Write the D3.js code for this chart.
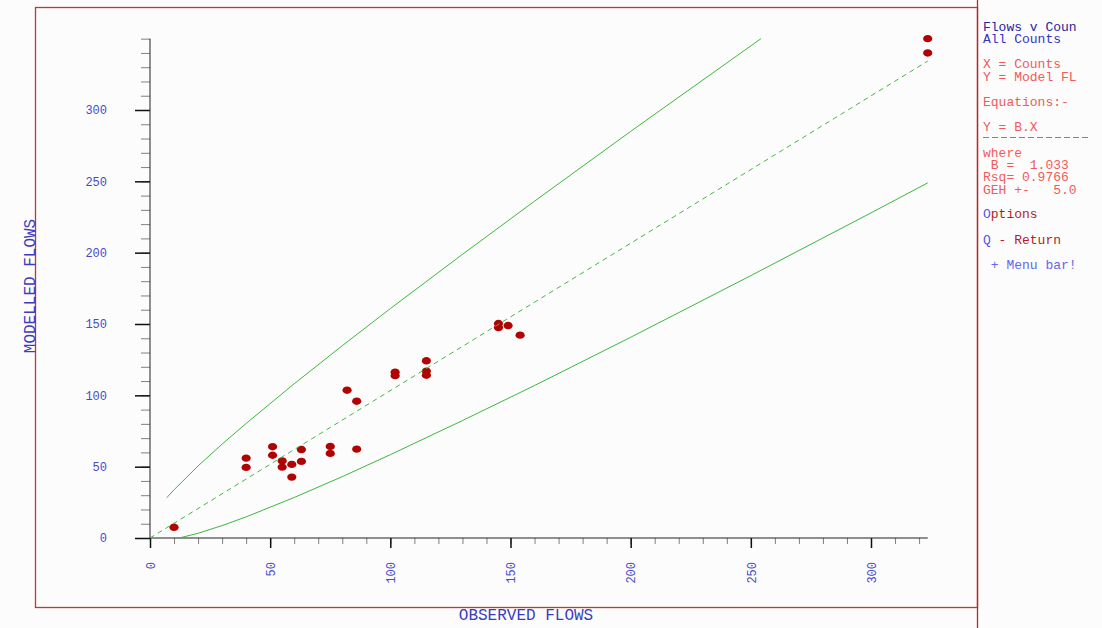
<!DOCTYPE html>
<html>
<head>
<meta charset="utf-8">
<script src="https://cdn.jsdelivr.net/npm/d3@7"></script>
<style>
  body { margin: 0; background: #fcfcfc; }
  svg { display: block; }
  text { font-family: "Liberation Mono", "DejaVu Sans Mono", monospace; }
</style>
</head>
<body>
<svg id="chart" width="1102" height="628"></svg>
<script>
(function(){
    // observed counts vs modelled flows
    var obsFlows = [10, 40, 40, 51, 51, 55, 55, 59, 59, 63, 63, 75, 75, 86,
                    82, 86, 102, 102, 115, 115, 115, 145, 145, 149, 154, 323.6, 323.6];
    var modFlows = [7.5, 56, 49.5, 64, 58, 54, 49.7, 51.6, 42.7, 62, 53.7, 64.2, 59.3, 62.3,
                    103.6, 95.9, 116.2, 113.8, 124.2, 117, 114.1, 150.3, 147.5, 148.9, 142.2, 350, 340];

    // fitted line Y = B.X
    var fitX = [0, 323.6];
    var fitY = [0, 334.3];

    // GEH +- 5 envelope
    var upperX = [7, 10, 20, 30, 40, 60, 80, 100, 130, 160, 200, 254.2];
    var upperY = [28.3, 33.8, 50.5, 65.8, 80.3, 108.1, 134.8, 160.8, 198.8, 236.1, 285.0, 350];
    var lowerX = [12.1, 20, 30, 40, 60, 80, 100, 130, 160, 200, 250, 300, 323.6];
    var lowerY = [0, 3.3, 8.7, 14.8, 28.4, 43.0, 58.4, 82.3, 106.9, 140.7, 183.9, 227.9, 248.9];

    var majorTicks = [0, 50, 100, 150, 200, 250, 300];
    var xMinorTicks = d3.range(0, 321, 10);
    var yMinorTicks = d3.range(0, 351, 10);

    var panelLines = [
        {y: 27,  parts: [["Flows v Coun", "#24249c"]]},
        {y: 39,  parts: [["All Counts", "#3434c0"]]},
        {y: 64,  parts: [["X = Counts", "#f05a5a"]]},
        {y: 77,  parts: [["Y = Model FL", "#f05a5a"]]},
        {y: 102, parts: [["Equations:-", "#f05a5a"]]},
        {y: 127, parts: [["Y = B.X", "#f05a5a"]]},
        {y: 153, parts: [["where", "#f05a5a"]]},
        {y: 165, parts: [[" B =  1.033", "#f05a5a"]]},
        {y: 177, parts: [["Rsq= 0.9766", "#f05a5a"]]},
        {y: 190, parts: [["GEH +-   5.0", "#f05a5a"]]},
        {y: 214, parts: [["O", "#5656e6"], ["ptions", "#b41c1c"]]},
        {y: 240, parts: [["Q", "#5656e6"], [" - Return", "#b41c1c"]]},
        {y: 265, parts: [[" + Menu bar!", "#6464f0"]]}
    ];

    var svg = d3.select("#chart");

    var x = d3.scaleLinear().domain([0, 300]).range([150, 871]);
    var y = d3.scaleLinear().domain([0, 300]).range([538, 110]);

    // frame and side panel divider
    svg.append("rect")
        .attr("x", 35.5).attr("y", 7.5)
        .attr("width", 942).attr("height", 600)
        .attr("fill", "none")
        .attr("stroke", "#c43434")
        .attr("stroke-width", 1.3);

    svg.append("line")
        .attr("x1", 977.5).attr("x2", 977.5)
        .attr("y1", 0).attr("y2", 628)
        .attr("stroke", "#b42a2a")
        .attr("stroke-width", 1.3);

    // minor ticks
    svg.append("g")
        .attr("transform", "translate(" + x(0) + ",0)")
        .call(d3.axisLeft(y).tickValues(yMinorTicks).tickSize(9).tickFormat(""))
        .call(function(g){
            g.select(".domain").remove();
            g.selectAll("line").attr("stroke", "#808080");
        });

    svg.append("g")
        .attr("transform", "translate(0," + y(0) + ")")
        .call(d3.axisBottom(x).tickValues(xMinorTicks).tickSize(6).tickFormat(""))
        .call(function(g){
            g.select(".domain").remove();
            g.selectAll("line").attr("stroke", "#808080");
        });

    // major ticks + labels
    svg.append("g")
        .attr("transform", "translate(" + x(0) + ",0)")
        .call(d3.axisLeft(y).tickValues(majorTicks).tickSize(15).tickPadding(28))
        .call(function(g){
            g.select(".domain").remove();
            g.selectAll("line").attr("stroke", "#101010").attr("stroke-width", 1.5);
            g.selectAll("text")
                .attr("fill", "#4a4ac8")
                .style("font-size", "12px")
                .style("font-family", "'Liberation Mono', monospace");
        });

    svg.append("g")
        .attr("transform", "translate(0," + y(0) + ")")
        .call(d3.axisBottom(x).tickValues(majorTicks).tickSize(10))
        .call(function(g){
            g.select(".domain").remove();
            g.selectAll("line").attr("stroke", "#101010").attr("stroke-width", 1.5);
            g.selectAll("text")
                .attr("transform", "rotate(-90)")
                .attr("x", -24).attr("y", 0).attr("dy", "0.35em")
                .attr("text-anchor", "end")
                .attr("fill", "#4a4ac8")
                .style("font-size", "12px")
                .style("font-family", "'Liberation Mono', monospace");
        });

    // axis lines
    svg.append("line")
        .attr("x1", x(0)).attr("x2", x(0))
        .attr("y1", y(0)).attr("y2", y(350))
        .attr("stroke", "#202020");
    svg.append("line")
        .attr("x1", x(0)).attr("x2", x(323.6))
        .attr("y1", y(0)).attr("y2", y(0))
        .attr("stroke", "#202020");

    // axis titles
    svg.append("text")
        .attr("transform", "translate(31,286) rotate(-90)")
        .attr("text-anchor", "middle")
        .attr("dominant-baseline", "central")
        .attr("fill", "#3c3cc0")
        .style("font-size", "16px")
        .text("MODELLED FLOWS");

    svg.append("text")
        .attr("x", 526).attr("y", 616)
        .attr("text-anchor", "middle")
        .attr("dominant-baseline", "central")
        .attr("fill", "#3c3cc0")
        .style("font-size", "16px")
        .text("OBSERVED FLOWS");

    // data points
    svg.append("g").selectAll("ellipse")
        .data(obsFlows)
        .enter()
        .append("ellipse")
        .attr("cx", function(d){ return x(d); })
        .attr("cy", function(d, i){ return y(modFlows[i]); })
        .attr("rx", 4.6)
        .attr("ry", 3.7)
        .attr("fill", "#b00404");

    // lines
    var line = d3.line()
        .x(function(d){ return x(d[0]); })
        .y(function(d){ return y(d[1]); });

    svg.append("path")
        .datum(d3.zip(upperX, upperY))
        .attr("d", line)
        .attr("fill", "none")
        .attr("stroke", "#3cb83c")
        .attr("stroke-width", 1);

    svg.append("path")
        .datum(d3.zip(lowerX, lowerY))
        .attr("d", line)
        .attr("fill", "none")
        .attr("stroke", "#3cb83c")
        .attr("stroke-width", 1);

    svg.append("path")
        .datum(d3.zip(fitX, fitY))
        .attr("d", line)
        .attr("fill", "none")
        .attr("stroke", "#44b844")
        .attr("stroke-width", 1)
        .attr("stroke-dasharray", "5,4");

    // side panel
    var panel = svg.append("g");
    panelLines.forEach(function(row){
        var t = panel.append("text")
            .attr("x", row.y === 265 ? 983 : 983)
            .attr("y", row.y)
            .attr("dominant-baseline", "central")
            .style("font-size", "13px")
            .attr("xml:space", "preserve")
            .style("white-space", "pre");
        row.parts.forEach(function(p){
            t.append("tspan").attr("fill", p[1]).text(p[0]);
        });
    });

    panel.append("line")
        .attr("x1", 983).attr("x2", 1088)
        .attr("y1", 137.5).attr("y2", 137.5)
        .attr("stroke", "#44b044")
        .attr("stroke-dasharray", "6,3");
})();
</script>
</body>
</html>
